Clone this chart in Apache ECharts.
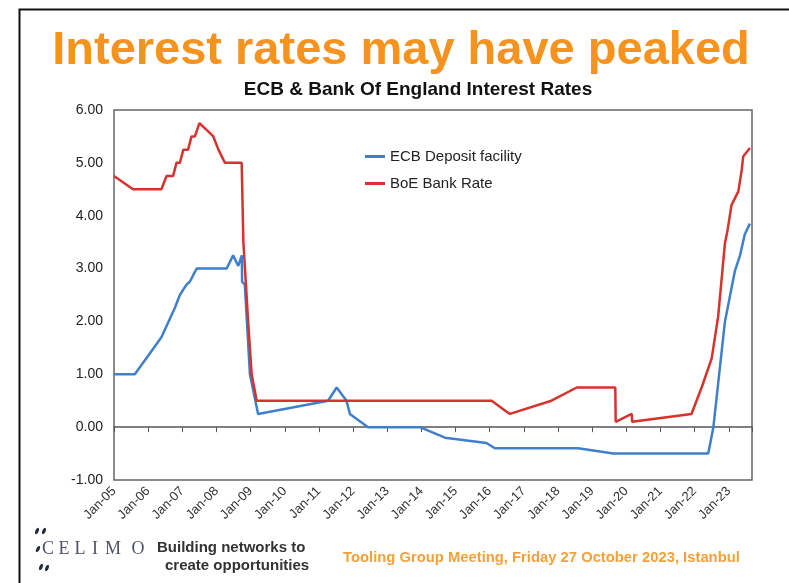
<!DOCTYPE html>
<html><head><meta charset="utf-8">
<script src="https://cdn.jsdelivr.net/npm/echarts@6/dist/echarts.min.js"></script>
<style>html,body{margin:0;padding:0;background:#fff}#c{width:789px;height:583px}</style>
</head><body><div id="c"></div>
<script>
// ---- data ----
const ecbName = 'ECB Deposit facility';
const boeName = 'BoE Bank Rate';
const ecbDates = ['2005-01-01','2005-08-10','2006-01-01','2006-05-21','2006-10-11','2006-12-05','2007-02-17','2007-03-20','2007-06-02','2008-04-19','2008-06-27','2008-08-21','2008-09-29','2008-10-01','2008-10-30','2008-12-24','2009-03-20','2011-04-08','2011-07-08','2011-10-22','2011-11-28','2012-06-09','2013-12-16','2014-09-09','2015-11-28','2016-02-25','2018-08-03','2019-08-14','2022-05-25','2022-07-19','2022-11-21','2023-03-05','2023-04-30','2023-06-20','2023-08-14'];
const ecbValues = [1.00,1.00,1.35,1.70,2.25,2.50,2.70,2.75,3.00,3.00,3.25,3.05,3.25,2.75,2.70,1.00,0.25,0.50,0.75,0.50,0.25,0.00,0.00,-0.20,-0.30,-0.40,-0.40,-0.50,-0.50,0.00,2.00,2.95,3.25,3.65,3.85];
const boeDates = ['2005-01-01','2005-07-22','2006-05-21','2006-07-15','2006-09-24','2006-10-30','2006-12-05','2007-01-12','2007-03-02','2007-04-08','2007-05-14','2007-07-01','2007-09-20','2007-11-28','2008-01-22','2008-04-01','2008-09-27','2008-10-15','2008-12-05','2009-01-12','2009-03-05','2016-01-22','2016-08-03','2017-10-22','2018-07-19','2019-09-05','2019-09-09','2020-02-28','2020-03-03','2021-11-28','2022-03-17','2022-07-01','2022-09-09','2022-11-21','2022-12-16','2023-01-30','2023-04-12','2023-05-18','2023-06-03','2023-08-14'];
const boeValues = [4.75,4.50,4.50,4.75,4.75,5.00,5.00,5.25,5.25,5.50,5.50,5.75,5.62,5.50,5.25,5.00,5.00,3.50,2.00,1.00,0.50,0.50,0.25,0.50,0.75,0.75,0.10,0.25,0.10,0.25,0.76,1.30,2.09,3.48,3.70,4.20,4.46,4.87,5.12,5.28];
const xStartYear = 2005;
const xEndYear = 2023.68;
const yMin = -1, yMax = 6, yStep = 1;

const titleText = 'Interest rates may have peaked';
const subtitleText = 'ECB & Bank Of England Interest Rates';
const footerLine1 = 'Building networks to';
const footerLine2 = 'create opportunities';
const footerEvent = 'Tooling Group Meeting, Friday 27 October 2023, Istanbul';
const logoLetters = ['C','E','L','I','M','O'];

// ---- helpers ----
function toYear(s){
  const p = s.split('-').map(Number);
  return p[0] + (p[1]-1)/12 + (p[2]-1)/365;
}
function pairs(dates, vals){ return dates.map((d,i)=>[toYear(d), vals[i]]); }

const chart = echarts.init(document.getElementById('c'), null, {renderer:'canvas'});

const logoCenters = [48, 64, 80, 95, 113, 138];
const logoGraphics = logoLetters.map((ch,i)=>({
  type:'text', x: logoCenters[i], y: 549,
  style:{text:ch, font:'18px "Liberation Serif", "DejaVu Serif", serif', fill:'#4a5568', textAlign:'center', textVerticalAlign:'middle'}
}));
const blobs = [[37,531,-25],[44,531,-25],[38,549,-30],[41,567,-25],[47,568,-25]].map(b=>({
  type:'ellipse', x:b[0], y:b[1], rotation:b[2]*Math.PI/180,
  shape:{cx:0, cy:0, rx:1.6, ry:3.4}, style:{fill:'#1f2b3a'}
}));

chart.setOption({
  animation:false,
  backgroundColor:'#ffffff',
  grid:{left:114, right:37, top:110, bottom:103, show:true, borderColor:'#666', borderWidth:1.5, containLabel:false, outerBoundsMode:'none'},
  legend:{
    data:[ecbName, boeName], orient:'vertical', left:360, top:144,
    itemWidth:20, itemHeight:3, icon:'rect', itemGap:12,
    textStyle:{fontSize:15, color:'#222', fontFamily:'"Liberation Sans", Arial, sans-serif'}
  },
  xAxis:[
    {type:'value', min:xStartYear, max:xEndYear, interval:1, position:'bottom',
     axisLine:{show:true, onZero:true, lineStyle:{color:'#555', width:1.5}},
     axisTick:{show:true, inside:false, length:5, lineStyle:{color:'#555', width:1}},
     axisLabel:{show:false}, splitLine:{show:false}},
    {type:'value', min:xStartYear, max:xEndYear, interval:1, position:'bottom',
     axisLine:{show:false, onZero:false}, axisTick:{show:false}, splitLine:{show:false},
     axisLabel:{rotate:45, fontSize:13, color:'#333', margin:9, showMaxLabel:false,
       fontFamily:'"Liberation Sans", Arial, sans-serif',
       formatter:v=>{ if (Math.abs(v-Math.round(v))>1e-6) return ''; return 'Jan-' + String(Math.round(v)%100).padStart(2,'0'); }}}
  ],
  yAxis:{type:'value', min:yMin, max:yMax, interval:yStep,
    axisLine:{show:false}, axisTick:{show:false}, splitLine:{show:false},
    axisLabel:{formatter:v=>v.toFixed(2), fontSize:14, color:'#222', margin:11, fontFamily:'"Liberation Sans", Arial, sans-serif'}},
  series:[
    {name:ecbName, type:'line', data:pairs(ecbDates, ecbValues), showSymbol:false, symbol:'none',
     lineStyle:{color:'#3F7FCB', width:2.5}, itemStyle:{color:'#3F7FCB'}, z:3},
    {name:boeName, type:'line', data:pairs(boeDates, boeValues), showSymbol:false, symbol:'none',
     lineStyle:{color:'#D7322C', width:2.5}, itemStyle:{color:'#D7322C'}, z:4}
  ],
  graphic:[
    {type:'polyline', shape:{points:[[19.5,590],[19.5,9.5],[795,9.5]]}, style:{stroke:'#111', lineWidth:2, fill:null}},
    {type:'text', x:401, y:51, style:{text:titleText, font:'bold 47px "Liberation Sans", Arial, sans-serif', fill:'#F6921E', textAlign:'center', textVerticalAlign:'middle'}},
    {type:'text', x:418, y:90, style:{text:subtitleText, font:'bold 19px "Liberation Sans", Arial, sans-serif', fill:'#111', textAlign:'center', textVerticalAlign:'middle'}},
    ...logoGraphics,
    ...blobs,
    {type:'text', x:157, y:548, style:{text:footerLine1, font:'bold 15px "Liberation Sans", Arial, sans-serif', fill:'#333', textAlign:'left', textVerticalAlign:'middle'}},
    {type:'text', x:165, y:566, style:{text:footerLine2, font:'bold 15px "Liberation Sans", Arial, sans-serif', fill:'#333', textAlign:'left', textVerticalAlign:'middle'}},
    {type:'text', x:343, y:558, style:{text:footerEvent, font:'bold 14.8px "Liberation Sans", Arial, sans-serif', fill:'#F5A03A', textAlign:'left', textVerticalAlign:'middle'}}
  ]
});
</script></body></html>
